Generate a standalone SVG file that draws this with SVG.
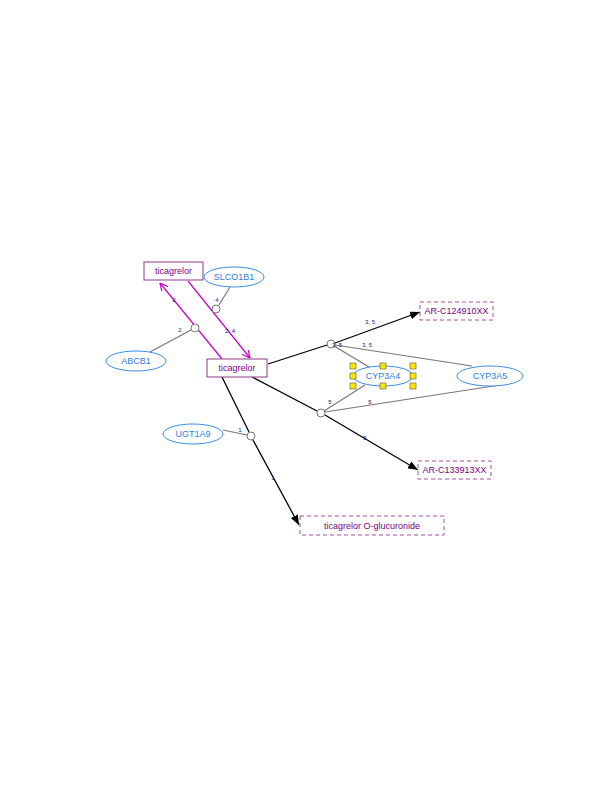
<svg xmlns="http://www.w3.org/2000/svg" width="612" height="792" viewBox="0 0 612 792">
<style>
text{font-family:"Liberation Sans",Arial,sans-serif}
.box{fill:#fff;stroke:#8b3a8b;stroke-width:1}
.dbox{fill:#fff;stroke:#a050a0;stroke-width:1;stroke-dasharray:4,3}
.lbl{font-size:9px;fill:#800080;text-anchor:middle}
.ell{fill:#fff;stroke:#3a8ee6;stroke-width:1}
.elbl{font-size:9px;fill:#2a7fe0;text-anchor:middle}
.cat{fill:#fff;stroke:#777;stroke-width:1}
.num{font-size:6px;fill:#1a1a8a;text-anchor:middle}
.blk{stroke:#000;stroke-width:1.3;fill:none}
.gry{stroke:#777;stroke-width:1.2;fill:none}
.mag{stroke:#cc00cc;stroke-width:1.2;fill:none}
.sq{fill:#ffe600;stroke:#555;stroke-width:0.6}
</style>
<defs>
<marker id="ab" markerWidth="10" markerHeight="8" refX="10" refY="4" orient="auto" markerUnits="userSpaceOnUse"><path d="M0,0L10,4L0,8z" fill="#000"/></marker>
<marker id="am" markerWidth="8" markerHeight="8" refX="8" refY="4" orient="auto" markerUnits="userSpaceOnUse"><path d="M0,0L8,4L0,8" fill="none" stroke="#cc00cc" stroke-width="1.2"/></marker>
</defs>
<g id="connectors">
<line class="mag" x1="222" y1="359" x2="160" y2="283" marker-end="url(#am)"/>
<line class="mag" x1="188" y1="281" x2="250" y2="358" marker-end="url(#am)"/>
<line class="gry" x1="150" y1="352" x2="191" y2="330"/>
<line class="gry" x1="230" y1="287" x2="219" y2="305"/>
<line class="blk" x1="268" y1="364" x2="327" y2="345"/>
<line class="blk" x1="335" y1="343" x2="420" y2="312" marker-end="url(#ab)"/>
<line class="gry" x1="334" y1="346" x2="369" y2="367"/>
<line class="gry" x1="335" y1="345" x2="472" y2="366"/>
<line class="blk" x1="252" y1="377" x2="317" y2="411"/>
<line class="blk" x1="325" y1="415" x2="418" y2="470" marker-end="url(#ab)"/>
<line class="gry" x1="324" y1="411" x2="365" y2="385"/>
<line class="gry" x1="325" y1="412" x2="500" y2="385"/>
<line class="blk" x1="222" y1="377" x2="249" y2="432"/>
<line class="blk" x1="253" y1="440" x2="299" y2="525" marker-end="url(#ab)"/>
<line class="gry" x1="223" y1="430" x2="247" y2="435"/>
<circle class="cat" cx="195" cy="328" r="4"/>
<circle class="cat" cx="216" cy="309" r="4"/>
<circle class="cat" cx="331" cy="344" r="4"/>
<circle class="cat" cx="321" cy="413" r="4"/>
<circle class="cat" cx="251" cy="436" r="4"/>
<text class="num" x="174" y="302">2</text>
<text class="num" x="230" y="333">2, 4</text>
<text class="num" x="180" y="332">2</text>
<text class="num" x="217" y="302">4</text>
<text class="num" x="370" y="324">3, 5</text>
<text class="num" x="337" y="347">3, 5</text>
<text class="num" x="367" y="347">3, 5</text>
<text class="num" x="330" y="404">5</text>
<text class="num" x="370" y="404">5</text>
<text class="num" x="365" y="440">5</text>
<text class="num" x="240" y="432">1</text>
<text class="num" x="273" y="480">1</text>
</g>
<g id="ticagrelor_top"><rect class="box" x="144" y="262" width="59" height="18"/><text class="lbl" x="173.5" y="274">ticagrelor</text></g>
<g id="ticagrelor"><rect class="box" x="207" y="359" width="60" height="18"/><text class="lbl" x="237" y="371">ticagrelor</text></g>
<g id="SLCO1B1"><ellipse class="ell" cx="234" cy="277" rx="30" ry="10"/><text class="elbl" x="234" y="280">SLCO1B1</text></g>
<g id="ABCB1"><ellipse class="ell" cx="136" cy="361" rx="30" ry="10"/><text class="elbl" x="136" y="364">ABCB1</text></g>
<g id="UGT1A9"><ellipse class="ell" cx="193" cy="434" rx="30" ry="10"/><text class="elbl" x="193" y="437">UGT1A9</text></g>
<g id="CYP3A4"><ellipse class="ell" cx="383" cy="376" rx="30" ry="10"/><text class="elbl" x="383" y="379">CYP3A4</text>
<rect class="sq" x="350" y="363" width="6" height="6"/><rect class="sq" x="380" y="363" width="6" height="6"/><rect class="sq" x="410" y="363" width="6" height="6"/>
<rect class="sq" x="350" y="373" width="6" height="6"/><rect class="sq" x="410" y="373" width="6" height="6"/>
<rect class="sq" x="350" y="383" width="6" height="6"/><rect class="sq" x="380" y="383" width="6" height="6"/><rect class="sq" x="410" y="383" width="6" height="6"/></g>
<g id="CYP3A5"><ellipse class="ell" cx="490" cy="376" rx="33" ry="10"/><text class="elbl" x="490" y="379">CYP3A5</text></g>
<g id="AR-C124910XX"><rect class="dbox" x="420" y="302" width="73" height="18"/><text class="lbl" x="456.5" y="314">AR-C124910XX</text></g>
<g id="AR-C133913XX"><rect class="dbox" x="418" y="461" width="73" height="18"/><text class="lbl" x="454.5" y="473">AR-C133913XX</text></g>
<g id="glucuronide"><rect class="dbox" x="300" y="516" width="144" height="19"/><text class="lbl" x="372" y="529">ticagrelor O-glucuronide</text></g>
</svg>
